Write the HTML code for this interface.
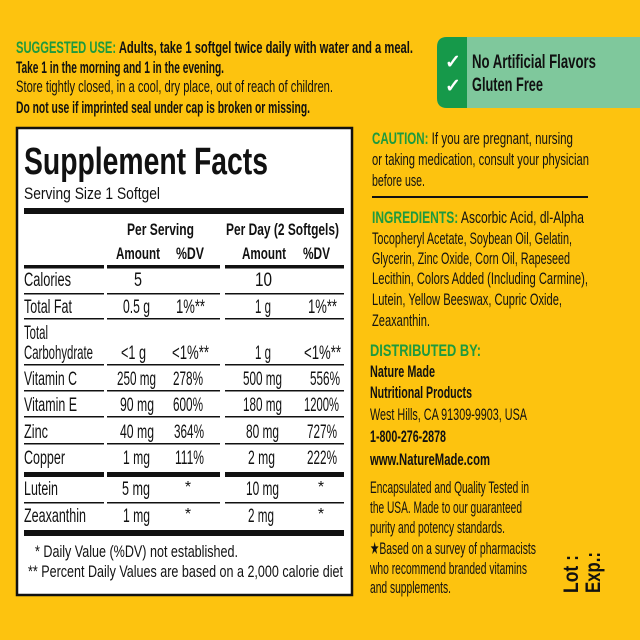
<!DOCTYPE html>
<html><head><meta charset="utf-8"><style>
html,body{margin:0;padding:0;background:#FDC30F;}
svg{display:block}
text{font-family:"Liberation Sans",sans-serif;fill:#111}
.g{fill:#1E9A3E;font-weight:bold}
.b{font-weight:bold}
</style></head><body>
<svg width="640" height="640" viewBox="0 0 640 640" xmlns="http://www.w3.org/2000/svg">
<rect width="640" height="640" fill="#FDC30F"/>
<text x="16" y="53" font-size="17" class="b" textLength="397" lengthAdjust="spacingAndGlyphs"><tspan class="g">SUGGESTED USE:</tspan> Adults, take 1 softgel twice daily with water and a meal.</text>
<text x="16" y="73" font-size="17" class="b" textLength="208" lengthAdjust="spacingAndGlyphs">Take 1 in the morning and 1 in the evening.</text>
<text x="16" y="92" font-size="17" textLength="317" lengthAdjust="spacingAndGlyphs">Store tightly closed, in a cool, dry place, out of reach of children.</text>
<text x="16" y="113" font-size="17" class="b" textLength="294" lengthAdjust="spacingAndGlyphs">Do not use if imprinted seal under cap is broken or missing.</text>
<path d="M447 37 H640 V108 H447 Q437 108 437 98 V47 Q437 37 447 37 Z" fill="#7FC89C"/>
<path d="M447 37 H467 V108 H447 Q437 108 437 98 V47 Q437 37 447 37 Z" fill="#16994A"/>
<text x="445" y="68" font-size="19" style="fill:#fff" class="b">✓</text>
<text x="445" y="92" font-size="19" style="fill:#fff" class="b">✓</text>
<text x="472" y="68" font-size="19" class="b" textLength="124" lengthAdjust="spacingAndGlyphs">No Artificial Flavors</text>
<text x="472" y="91" font-size="19" class="b" textLength="71" lengthAdjust="spacingAndGlyphs">Gluten Free</text>
<rect x="17" y="128" width="335" height="467" fill="#fff" stroke="#111" stroke-width="2.5"/>
<text x="24" y="174" font-size="38" class="b" textLength="244" lengthAdjust="spacingAndGlyphs">Supplement Facts</text>
<text x="24" y="199" font-size="17" textLength="136" lengthAdjust="spacingAndGlyphs">Serving Size 1 Softgel</text>
<rect x="24" y="208" width="320" height="6" fill="#111"/>
<text x="127" y="235" font-size="17" class="b" textLength="67" lengthAdjust="spacingAndGlyphs">Per Serving</text>
<text x="226" y="235" font-size="17" class="b" textLength="113" lengthAdjust="spacingAndGlyphs">Per Day (2 Softgels)</text>
<text x="116" y="259" font-size="17" class="b" textLength="44" lengthAdjust="spacingAndGlyphs">Amount</text>
<text x="176" y="259" font-size="17" class="b" textLength="28" lengthAdjust="spacingAndGlyphs">%DV</text>
<text x="242" y="259" font-size="17" class="b" textLength="44" lengthAdjust="spacingAndGlyphs">Amount</text>
<text x="303" y="259" font-size="17" class="b" textLength="27" lengthAdjust="spacingAndGlyphs">%DV</text>
<g fill="#111">
<rect x="24" y="265" width="80" height="3.5"/><rect x="107" y="265" width="113" height="3.5"/><rect x="225" y="265" width="119" height="3.5"/>
<rect x="24" y="293" width="80" height="1.5"/><rect x="107" y="293" width="113" height="1.5"/><rect x="225" y="293" width="119" height="1.5"/>
<rect x="24" y="318" width="80" height="1.5"/><rect x="107" y="318" width="113" height="1.5"/><rect x="225" y="318" width="119" height="1.5"/>
<rect x="24" y="364" width="80" height="1.5"/><rect x="107" y="364" width="113" height="1.5"/><rect x="225" y="364" width="119" height="1.5"/>
<rect x="24" y="390" width="80" height="1.5"/><rect x="107" y="390" width="113" height="1.5"/><rect x="225" y="390" width="119" height="1.5"/>
<rect x="24" y="416" width="80" height="1.5"/><rect x="107" y="416" width="113" height="1.5"/><rect x="225" y="416" width="119" height="1.5"/>
<rect x="24" y="443" width="80" height="1.5"/><rect x="107" y="443" width="113" height="1.5"/><rect x="225" y="443" width="119" height="1.5"/>
<rect x="24" y="472" width="80" height="5"/><rect x="107" y="472" width="113" height="5"/><rect x="225" y="472" width="119" height="5"/>
<rect x="24" y="502" width="80" height="1.5"/><rect x="107" y="502" width="113" height="1.5"/><rect x="225" y="502" width="119" height="1.5"/>
<rect x="24" y="530" width="320" height="6"/>
</g>
<g font-size="19">
<text x="24" y="286" textLength="47" lengthAdjust="spacingAndGlyphs">Calories</text><text x="134" y="286" textLength="8" lengthAdjust="spacingAndGlyphs">5</text><text x="255" y="286" textLength="17" lengthAdjust="spacingAndGlyphs">10</text>
<text x="24" y="313" textLength="48" lengthAdjust="spacingAndGlyphs">Total Fat</text><text x="123" y="313" textLength="27" lengthAdjust="spacingAndGlyphs">0.5 g</text><text x="176" y="313" textLength="29" lengthAdjust="spacingAndGlyphs">1%**</text><text x="255" y="313" textLength="16" lengthAdjust="spacingAndGlyphs">1 g</text><text x="308" y="313" textLength="29" lengthAdjust="spacingAndGlyphs">1%**</text>
<text x="24" y="339" textLength="24" lengthAdjust="spacingAndGlyphs">Total</text>
<text x="24" y="359" textLength="69" lengthAdjust="spacingAndGlyphs">Carbohydrate</text><text x="121" y="359" textLength="25" lengthAdjust="spacingAndGlyphs">&lt;1 g</text><text x="172" y="359" textLength="37" lengthAdjust="spacingAndGlyphs">&lt;1%**</text><text x="255" y="359" textLength="16" lengthAdjust="spacingAndGlyphs">1 g</text><text x="304" y="359" textLength="37" lengthAdjust="spacingAndGlyphs">&lt;1%**</text>
<text x="24" y="385" textLength="53" lengthAdjust="spacingAndGlyphs">Vitamin C</text><text x="117" y="385" textLength="39" lengthAdjust="spacingAndGlyphs">250 mg</text><text x="173" y="385" textLength="30" lengthAdjust="spacingAndGlyphs">278%</text><text x="243" y="385" textLength="39" lengthAdjust="spacingAndGlyphs">500 mg</text><text x="310" y="385" textLength="30" lengthAdjust="spacingAndGlyphs">556%</text>
<text x="24" y="411" textLength="53" lengthAdjust="spacingAndGlyphs">Vitamin E</text><text x="120" y="411" textLength="34" lengthAdjust="spacingAndGlyphs">90 mg</text><text x="173" y="411" textLength="30" lengthAdjust="spacingAndGlyphs">600%</text><text x="243" y="411" textLength="39" lengthAdjust="spacingAndGlyphs">180 mg</text><text x="304" y="411" textLength="35" lengthAdjust="spacingAndGlyphs">1200%</text>
<text x="24" y="438" textLength="24" lengthAdjust="spacingAndGlyphs">Zinc</text><text x="120" y="438" textLength="34" lengthAdjust="spacingAndGlyphs">40 mg</text><text x="174" y="438" textLength="30" lengthAdjust="spacingAndGlyphs">364%</text><text x="246" y="438" textLength="33" lengthAdjust="spacingAndGlyphs">80 mg</text><text x="307" y="438" textLength="30" lengthAdjust="spacingAndGlyphs">727%</text>
<text x="24" y="464" textLength="41" lengthAdjust="spacingAndGlyphs">Copper</text><text x="123" y="464" textLength="27" lengthAdjust="spacingAndGlyphs">1 mg</text><text x="175" y="464" textLength="29" lengthAdjust="spacingAndGlyphs">111%</text><text x="248" y="464" textLength="27" lengthAdjust="spacingAndGlyphs">2 mg</text><text x="307" y="464" textLength="30" lengthAdjust="spacingAndGlyphs">222%</text>
<text x="24" y="495" textLength="34" lengthAdjust="spacingAndGlyphs">Lutein</text><text x="122" y="495" textLength="28" lengthAdjust="spacingAndGlyphs">5 mg</text><text x="188" y="492" text-anchor="middle" font-size="16">*</text><text x="246" y="495" textLength="33" lengthAdjust="spacingAndGlyphs">10 mg</text><text x="321" y="492" text-anchor="middle" font-size="16">*</text>
<text x="24" y="522" textLength="62" lengthAdjust="spacingAndGlyphs">Zeaxanthin</text><text x="123" y="522" textLength="27" lengthAdjust="spacingAndGlyphs">1 mg</text><text x="188" y="519" text-anchor="middle" font-size="16">*</text><text x="248" y="522" textLength="26" lengthAdjust="spacingAndGlyphs">2 mg</text><text x="321" y="519" text-anchor="middle" font-size="16">*</text>
</g>
<text x="35" y="557" font-size="17" textLength="203" lengthAdjust="spacingAndGlyphs">* Daily Value (%DV) not established.</text>
<text x="28" y="577" font-size="17" textLength="315" lengthAdjust="spacingAndGlyphs">** Percent Daily Values are based on a 2,000 calorie diet</text>
<g font-size="17">
<text x="372" y="144" textLength="201" lengthAdjust="spacingAndGlyphs"><tspan class="g">CAUTION:</tspan> If you are pregnant, nursing</text>
<text x="372" y="165" textLength="217" lengthAdjust="spacingAndGlyphs">or taking medication, consult your physician</text>
<text x="372" y="186" textLength="53" lengthAdjust="spacingAndGlyphs">before use.</text>
<rect x="372" y="196" width="216" height="2" fill="#111"/>
<text x="372" y="223" textLength="212" lengthAdjust="spacingAndGlyphs"><tspan class="g">INGREDIENTS:</tspan> Ascorbic Acid, dl-Alpha</text>
<text x="372" y="244" textLength="200" lengthAdjust="spacingAndGlyphs">Tocopheryl Acetate, Soybean Oil, Gelatin,</text>
<text x="372" y="264" textLength="198" lengthAdjust="spacingAndGlyphs">Glycerin, Zinc Oxide, Corn Oil, Rapeseed</text>
<text x="372" y="284" textLength="216" lengthAdjust="spacingAndGlyphs">Lecithin, Colors Added (Including Carmine),</text>
<text x="372" y="305" textLength="190" lengthAdjust="spacingAndGlyphs">Lutein, Yellow Beeswax, Cupric Oxide,</text>
<text x="372" y="326" textLength="58" lengthAdjust="spacingAndGlyphs">Zeaxanthin.</text>
<text x="370" y="356" class="g" textLength="111" lengthAdjust="spacingAndGlyphs">DISTRIBUTED BY:</text>
<text x="370" y="377" class="b" textLength="65" lengthAdjust="spacingAndGlyphs">Nature Made</text>
<text x="370" y="398" class="b" textLength="102" lengthAdjust="spacingAndGlyphs">Nutritional Products</text>
<text x="370" y="420" textLength="157" lengthAdjust="spacingAndGlyphs">West Hills, CA 91309-9903, USA</text>
<text x="370" y="442" class="b" textLength="76" lengthAdjust="spacingAndGlyphs">1-800-276-2878</text>
<text x="370" y="465" class="b" textLength="120" lengthAdjust="spacingAndGlyphs">www.NatureMade.com</text>
<text x="370" y="493" textLength="159" lengthAdjust="spacingAndGlyphs">Encapsulated and Quality Tested in</text>
<text x="370" y="513" textLength="152" lengthAdjust="spacingAndGlyphs">the USA. Made to our guaranteed</text>
<text x="370" y="533" textLength="135" lengthAdjust="spacingAndGlyphs">purity and potency standards.</text>
<text x="370" y="554" textLength="166" lengthAdjust="spacingAndGlyphs">★Based on a survey of pharmacists</text>
<text x="370" y="574" textLength="157" lengthAdjust="spacingAndGlyphs">who recommend branded vitamins</text>
<text x="370" y="593" textLength="81" lengthAdjust="spacingAndGlyphs">and supplements.</text>
</g>
<text transform="translate(578,593) rotate(-90)" font-size="21" class="b" textLength="38" lengthAdjust="spacingAndGlyphs">Lot :</text>
<text transform="translate(600,593) rotate(-90)" font-size="21" class="b" textLength="41" lengthAdjust="spacingAndGlyphs">Exp.:</text>
</svg>
</body></html>
